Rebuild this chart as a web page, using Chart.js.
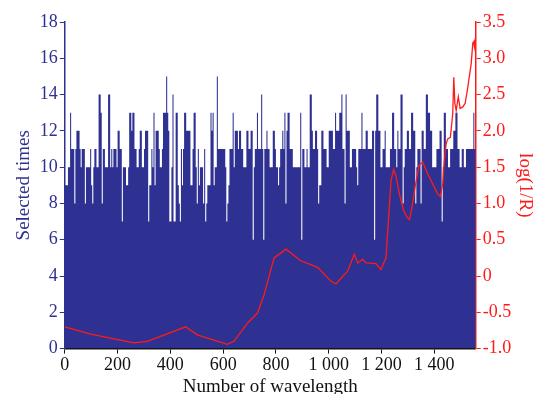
<!DOCTYPE html>
<html>
<head>
<meta charset="utf-8">
<script src="https://cdn.jsdelivr.net/npm/chart.js@4.4.1/dist/chart.umd.min.js"></script>
<style>
  html, body { margin: 0; padding: 0; background: #fff; overflow: hidden; }
  #wrap { position: relative; width: 536px; height: 398px; }
</style>
</head>
<body>
<div id="wrap"><canvas id="chart"></canvas></div>
<script>
// selected times, one value per bin of 4 wavelengths
const binWidth = 4;
const selectedTimes = [
    // 0 - 300
    8, 9, 9, 9, 10, 10, 13, 11, 11, 11, 8, 11, 12, 12, 12, 11, 10, 11, 11, 11,
    8, 10, 10, 10, 10, 11, 9, 8, 10, 11, 11, 10, 10, 14, 14, 13, 8, 11, 11, 10,
    10, 10, 14, 14, 10, 11, 10, 11, 11, 11, 10, 12, 12, 11, 11, 7, 10, 10, 10, 9,
    9, 10, 13, 13, 12, 13, 13, 11, 11, 10, 10, 11, 12, 12, 10, 10,
    // 300 - 600
    11, 12, 12, 12, 7, 9, 9, 11, 10, 13, 9, 12, 12, 12, 11, 10, 10, 11, 13, 13,
    13, 15, 13, 12, 7, 7, 10, 14, 7, 7, 13, 13, 9, 8, 7, 11, 9, 11, 13, 13,
    12, 12, 12, 12, 9, 9, 11, 13, 13, 10, 8, 11, 9, 10, 10, 10, 8, 11, 7, 8,
    9, 9, 9, 13, 12, 13, 9, 10, 10, 15, 11, 11, 11, 11, 11,
    // 600 - 900
    11, 11, 10, 7, 8, 9, 11, 11, 11, 13, 10, 12, 12, 12, 11, 12, 12, 11, 11, 10,
    10, 10, 12, 12, 11, 11, 12, 12, 6, 10, 11, 11, 13, 11, 11, 11, 14, 11, 6, 11,
    11, 12, 11, 11, 10, 10, 10, 12, 12, 11, 10, 10, 9, 10, 11, 11, 12, 11, 13, 8,
    12, 13, 13, 11, 11, 11, 10, 10, 10, 10, 10, 10, 10, 13, 6, 11, 11, 10, 10,
    // 900 - 1200
    11, 10, 10, 14, 14, 12, 11, 11, 12, 12, 11, 8, 9, 9, 12, 12, 11, 11, 11, 10,
    10, 12, 12, 12, 12, 11, 11, 13, 12, 12, 12, 13, 13, 14, 11, 11, 8, 14, 12, 12,
    12, 10, 10, 11, 11, 11, 11, 10, 9, 11, 11, 11, 13, 11, 11, 11, 12, 12, 11, 11,
    11, 11, 12, 12, 6, 12, 14, 14, 12, 12, 10, 10, 11, 11, 12, 10, 10, 10, 10,
    // 1200 - 1557
    11, 11, 13, 13, 11, 11, 10, 12, 11, 11, 14, 14, 8, 10, 11, 11, 12, 12, 11, 11,
    13, 13, 12, 12, 8, 10, 11, 11, 11, 8, 12, 12, 11, 11, 14, 14, 13, 13, 12, 12,
    10, 10, 10, 10, 11, 11, 11, 12, 12, 7, 10, 13, 13, 11, 11, 10, 10, 11, 11, 11,
    12, 12, 13, 13, 11, 11, 10, 10, 11, 11, 10, 10, 11, 11, 11, 11, 11, 11, 11, 13,
    11, 11
];

// log(1/R) spectrum, read at points along the curve
const specIdx = [0, 98, 262, 313, 458, 502, 616, 641, 692, 730, 755, 793, 838, 894, 958, 1008,
    1027, 1072, 1097, 1110, 1129, 1141, 1179, 1198, 1217, 1236, 1246, 1255, 1268, 1284,
    1297, 1306, 1315, 1327, 1343, 1356, 1362, 1375, 1394, 1413, 1423, 1432, 1438, 1445,
    1451, 1461, 1470, 1474, 1478, 1483, 1491, 1498, 1508, 1517, 1527, 1540, 1546, 1550,
    1552, 1556];
const logR = [-0.70, -0.80, -0.92, -0.90, -0.70, -0.81, -0.94, -0.90, -0.65, -0.51, -0.26, 0.25,
    0.37, 0.21, 0.12, -0.07, -0.11, 0.07, 0.30, 0.18, 0.23, 0.18, 0.17, 0.09, 0.25, 1.31,
    1.47, 1.38, 1.13, 0.90, 0.81, 0.78, 0.94, 1.22, 1.53, 1.57, 1.52, 1.41, 1.27, 1.13,
    1.10, 1.27, 1.59, 1.82, 1.89, 1.91, 2.24, 2.74, 2.38, 2.28, 2.47, 2.31, 2.33, 2.38,
    2.60, 2.93, 3.21, 3.23, 3.16, 3.28];

const xTicks = [0, 200, 400, 600, 800, 1000, 1200, 1400];

const navy = '#2e3192';
const red = '#ff1a1a';
const serif = "'Liberation Serif', 'Times New Roman', serif";

const barPoints = selectedTimes.map((v, i) => ({x: i * binWidth, y: v}));
const specPoints = specIdx.map((x, i) => ({x: x, y: logR[i]}));

Chart.defaults.font.family = serif;
Chart.defaults.font.size = 18;

new Chart('chart', {
    type: 'line',
    data: {
        datasets: [{
            label: 'Selected times',
            data: barPoints,
            yAxisID: 'y',
            stepped: 'after',
            fill: 'origin',
            backgroundColor: navy,
            borderWidth: 0,
            pointRadius: 0,
            order: 2
        }, {
            label: 'log(1/R)',
            data: specPoints,
            yAxisID: 'y1',
            borderColor: red,
            borderWidth: 1.3,
            pointRadius: 0,
            tension: 0,
            fill: false,
            order: 1
        }]
    },
    options: {
        responsive: true,
        maintainAspectRatio: false,
        animation: false,
        layout: { padding: { left: 13, right: 0, top: 22, bottom: 0 } },
        plugins: { legend: { display: false }, tooltip: { enabled: false } },
        scales: {
            x: {
                type: 'linear',
                min: 0,
                max: 1557,
                afterBuildTicks: axis => { axis.ticks = xTicks.map(v => ({value: v})); },
                ticks: {
                    color: '#111',
                    padding: 1,
                    maxRotation: 0,
                    autoSkip: false,
                    callback: v => v >= 1000 ? Math.floor(v / 1000) + ' ' + String(v % 1000).padStart(3, '0') : String(v)
                },
                grid: { drawOnChartArea: false, tickLength: 5, color: '#111' },
                border: { color: '#111', width: 1.5 },
                title: { display: true, text: 'Number of wavelength', color: '#111', font: { size: 19 }, padding: { top: -2, bottom: 0 } }
            },
            y: {
                position: 'left',
                min: 0,
                max: 18,
                ticks: { stepSize: 2, color: navy, padding: 2 },
                grid: { drawOnChartArea: false, tickLength: 5, color: navy },
                border: { color: navy, width: 1.5 },
                title: { display: true, text: 'Selected times', color: navy, font: { size: 19 }, padding: { top: 0, bottom: 2 } }
            },
            y1: {
                position: 'right',
                min: -1,
                max: 3.5,
                ticks: {
                    stepSize: 0.5,
                    color: red,
                    padding: 2,
                    callback: v => v === 0 ? '0' : v.toFixed(1)
                },
                grid: { drawOnChartArea: false, tickLength: 5, color: red },
                border: { color: red, width: 1.5 },
                title: { display: true, text: 'log(1/R)', color: red, font: { size: 19 }, padding: { top: 0, bottom: 0 } }
            }
        }
    }
});
</script>
</body>
</html>
